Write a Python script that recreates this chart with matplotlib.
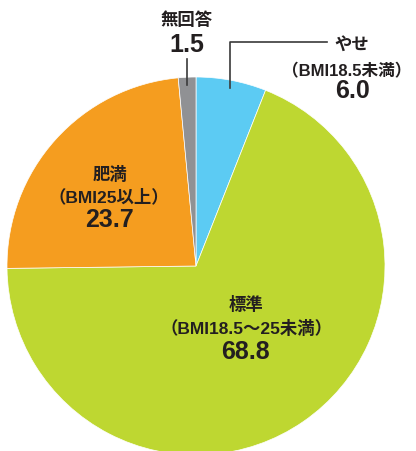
import numpy as np
import matplotlib.pyplot as plt

plt.rcParams['font.family'] = ['Liberation Sans', 'Noto Sans CJK JP']

names = ['やせ', '標準', '肥満', '無回答']
notes = ['（BMI18.5未満）', '（BMI18.5～25未満）', '（BMI25以上）', '']
values = [6.0, 68.8, 23.7, 1.5]
colors = ['#5ccbf3', '#bed731', '#f59d1f', '#909194']

W, H = 416, 452
fig = plt.figure(figsize=(W / 100, H / 100), dpi=100)
ax = fig.add_axes([0, 0, 1, 1])

cx, cy, R = 196, H - 267, 189
wedges, _ = ax.pie(values, colors=colors, startangle=90, counterclock=False,
                   center=(cx, cy), radius=R,
                   wedgeprops=dict(linewidth=0.5, edgecolor='white'))
ax.set_xlim(0, W)
ax.set_ylim(0, H)
ax.axis('off')

txt = '#231f20'
fs_name, fs_note, fs_val = 12.5, 12.5, 18

def anchor(w, f=0.96):
    a = np.deg2rad((w.theta1 + w.theta2) / 2)
    return cx + f * R * np.cos(a), cy + f * R * np.sin(a)

def label(x, y, s, fs):
    ax.text(x, H - y, s, ha='center', va='center', fontsize=fs, fontweight='bold', color=txt)

# leader lines
x0, y0 = anchor(wedges[0])
ax.plot([x0, x0, 327], [y0, H - 43, H - 43], color='#3a3a3a', lw=1.2)
x3, y3 = anchor(wedges[3])
ax.plot([x3, x3], [y3, H - 60], color='#3a3a3a', lw=1.2)

# labels
label(352, 45, names[0], fs_name)
label(347, 71, notes[0], 12)
label(352, 91, '%.1f' % values[0], fs_val)

label(246, 305, names[1], fs_name)
label(247, 329, notes[1], fs_note)
label(245, 352, '%.1f' % values[1], fs_val)

label(110, 175, names[2], fs_name)
label(109, 197, notes[2], fs_note)
label(110, 220, '%.1f' % values[2], fs_val)

label(187, 20, names[3], fs_name)
label(187, 45, '%.1f' % values[3], fs_val)

plt.savefig('out.png', dpi=100)
